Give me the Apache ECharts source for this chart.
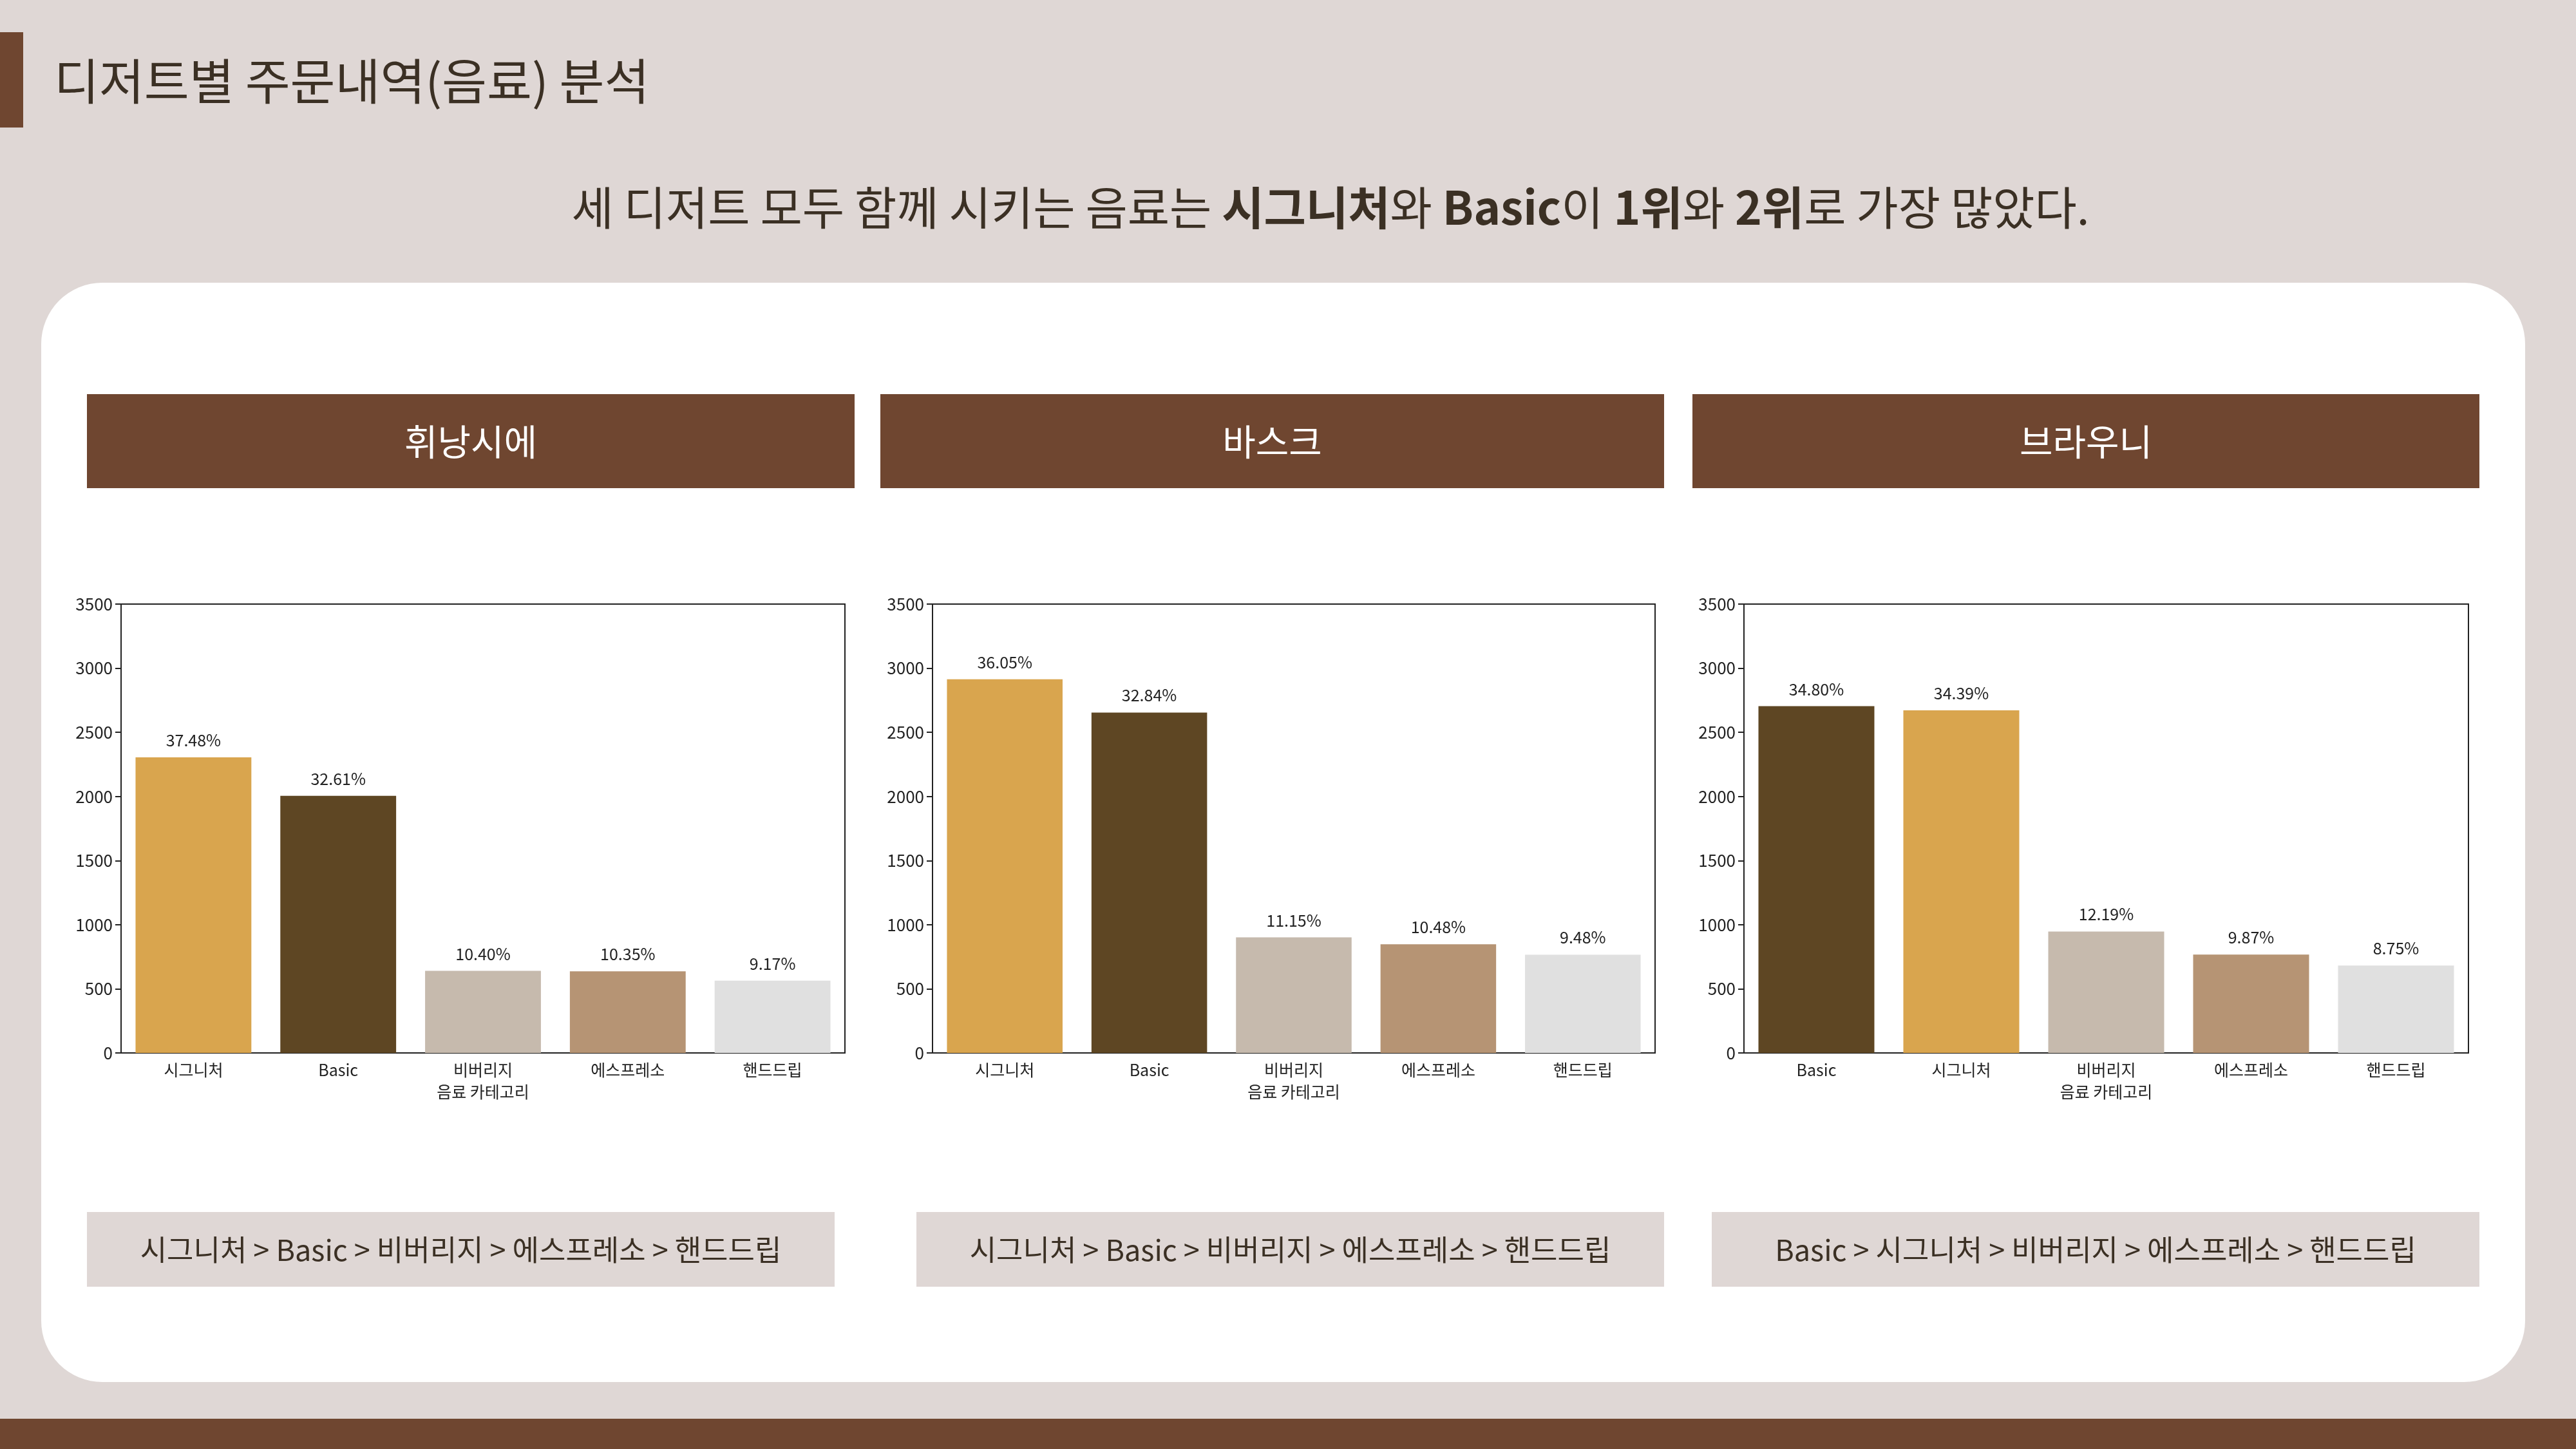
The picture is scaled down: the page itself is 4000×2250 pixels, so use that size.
<!DOCTYPE html>
<html>
<head>
<meta charset="utf-8">
<script src="https://cdn.jsdelivr.net/npm/echarts@6/dist/echarts.min.js"></script>
<style>
  html, body { margin: 0; padding: 0; background: #dfd7d5; }
  #main { width: 4000px; height: 2250px; }
</style>
</head>
<body>
<div id="main"></div>
<script>
// 디저트별 음료 주문 수
const desserts = ['휘낭시에', '바스크', '브라우니']

const cats1 = ['시그니처', 'Basic', '비버리지', '에스프레소', '핸드드립']
const vals1 = [2305, 2005, 640, 637, 564]
const pct1 = ['37.48%', '32.61%', '10.40%', '10.35%', '9.17%']

const cats2 = ['시그니처', 'Basic', '비버리지', '에스프레소', '핸드드립']
const vals2 = [2914, 2654, 901, 847, 766]
const pct2 = ['36.05%', '32.84%', '11.15%', '10.48%', '9.48%']

const cats3 = ['Basic', '시그니처', '비버리지', '에스프레소', '핸드드립']
const vals3 = [2704, 2672, 947, 767, 682]
const pct3 = ['34.80%', '34.39%', '12.19%', '9.87%', '8.75%']

const yTicks = [0, 500, 1000, 1500, 2000, 2500, 3000, 3500]

const rankings = [
  '시그니처 > Basic > 비버리지 > 에스프레소 > 핸드드립',
  '시그니처 > Basic > 비버리지 > 에스프레소 > 핸드드립',
  'Basic > 시그니처 > 비버리지 > 에스프레소 > 핸드드립'
]

const catColors = {
  '시그니처': '#d9a54e',
  'Basic': '#5e4623',
  '비버리지': '#c6baad',
  '에스프레소': '#b69474',
  '핸드드립': '#e0e0e0'
}

const FONT = '"Noto Sans CJK KR", "Noto Sans", sans-serif'
const BROWN = '#6f4630'
const DARK = '#3b3024'

const allCats = [cats1, cats2, cats3]
const allVals = [vals1, vals2, vals3]
const allPct = [pct1, pct2, pct3]

// layout
const gridLefts = [188, 1448, 2708]
const gridWidths = [1124, 1122, 1125]
const headerBoxes = [[135, 1192], [1367, 1217], [2628, 1222]]
const rankBoxes = [[135, 1161], [1423, 1161], [2658, 1192]]

const myChart = echarts.init(document.getElementById('main'), null, { renderer: 'canvas' })

const graphics = [
  { type: 'rect', shape: { x: 0, y: 50, width: 36, height: 148 }, style: { fill: BROWN } },
  {
    type: 'text', x: 84, y: 126,
    style: { text: '디저트별 주문내역(음료) 분석', fontSize: 76, fontFamily: FONT, fill: DARK, verticalAlign: 'middle' }
  },
  {
    type: 'text', x: 2066, y: 322,
    style: {
      text: '세 디저트 모두 함께 시키는 음료는 {b|시그니처}와 {b|Basic}이 {b|1위}와 {b|2위}로 가장 많았다.',
      fontSize: 71, fontFamily: FONT, fill: DARK, align: 'center', verticalAlign: 'middle',
      rich: { b: { fontSize: 71, fontFamily: FONT, fontWeight: 'bold', fill: DARK } }
    }
  },
  { type: 'rect', z: -10, shape: { x: 64, y: 439, width: 3857, height: 1707, r: 95 }, style: { fill: '#ffffff' } },
  { type: 'rect', shape: { x: 0, y: 2203, width: 4000, height: 47 }, style: { fill: BROWN } }
]

desserts.forEach((d, i) => {
  const [hx, hw] = headerBoxes[i]
  graphics.push({ type: 'rect', shape: { x: hx, y: 612, width: hw, height: 146 }, style: { fill: BROWN } })
  graphics.push({
    type: 'text', x: hx + hw / 2, y: 686,
    style: { text: d, fontSize: 56, fontFamily: FONT, fill: '#ffffff', align: 'center', verticalAlign: 'middle' }
  })
  const [rx, rw] = rankBoxes[i]
  graphics.push({ type: 'rect', shape: { x: rx, y: 1882, width: rw, height: 116 }, style: { fill: '#dfd7d5' } })
  graphics.push({
    type: 'text', x: rx + rw / 2, y: 1941,
    style: { text: rankings[i], fontSize: 45, fontFamily: FONT, fill: DARK, align: 'center', verticalAlign: 'middle' }
  })
})

const grids = gridLefts.map((l, i) => ({
  left: l, top: 938, width: gridWidths[i], height: 697,
  show: true, borderColor: '#222', borderWidth: 2, backgroundColor: '#ffffff'
}))

const xAxes = allCats.map((c, i) => ({
  type: 'category', gridIndex: i, data: c,
  name: '음료 카테고리', nameLocation: 'middle', nameGap: 48,
  nameTextStyle: { fontSize: 25, fontFamily: FONT, color: '#222', verticalAlign: 'top' },
  axisLine: { lineStyle: { color: '#222', width: 2 } },
  axisTick: { alignWithLabel: true, length: 8, lineStyle: { color: '#222', width: 2 } },
  axisLabel: { fontSize: 25, fontFamily: FONT, color: '#222', margin: 14 }
}))

const yAxes = allCats.map((c, i) => ({
  type: 'value', gridIndex: i, min: yTicks[0], max: yTicks[yTicks.length - 1], interval: 500,
  splitLine: { show: false },
  axisLine: { show: true, lineStyle: { color: '#222', width: 2 } },
  axisTick: { show: true, length: 9, lineStyle: { color: '#222', width: 2 } },
  axisLabel: { fontSize: 26, fontFamily: FONT, color: '#222', margin: 13, formatter: v => String(v) }
}))

const series = allCats.map((c, i) => ({
  type: 'bar', xAxisIndex: i, yAxisIndex: i,
  barCategoryGap: '20%',
  data: allVals[i].map((v, j) => ({ value: v, itemStyle: { color: catColors[c[j]] } })),
  label: {
    show: true, position: 'top', distance: 14,
    fontSize: 25, fontFamily: FONT, color: '#222',
    formatter: p => allPct[i][p.dataIndex]
  }
}))

myChart.setOption({
  backgroundColor: '#dfd7d5',
  animation: false,
  graphic: graphics,
  grid: grids,
  xAxis: xAxes,
  yAxis: yAxes,
  series: series
})
</script>
</body>
</html>
